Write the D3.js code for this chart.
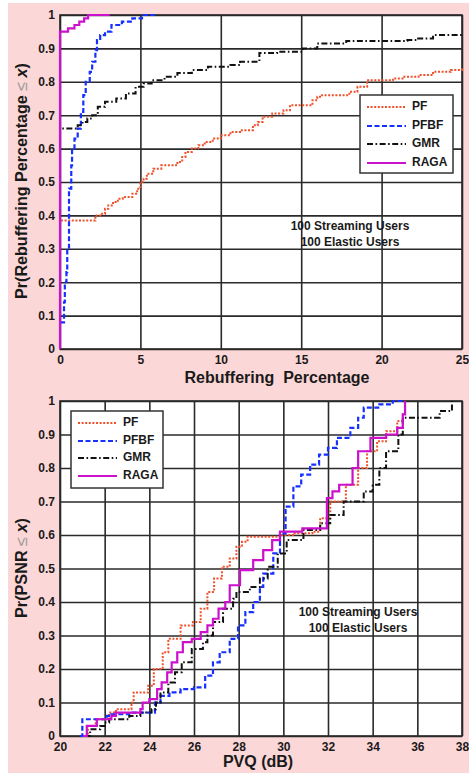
<!DOCTYPE html>
<html><head><meta charset="utf-8">
<script src="https://cdn.jsdelivr.net/npm/d3@7"></script>
<style>
html,body{margin:0;padding:0;background:#fff;}
svg{display:block;}
text{font-family:"Liberation Sans",Arial,sans-serif;font-weight:bold;fill:#1a1a1a;}
</style></head>
<body>
<svg id="c" width="469" height="775"></svg>
<script>
// ---------- data: top chart (Rebuffering Percentage CDF) ----------
const seriesNames = ["PF", "PFBF", "GMR", "RAGA"];
const rebufTicksX = [0, 5, 10, 15, 20, 25];
const probTicks = [0, 0.1, 0.2, 0.3, 0.4, 0.5, 0.6, 0.7, 0.8, 0.9, 1];
const probTickLabels = ["0", "0.1", "0.2", "0.3", "0.4", "0.5", "0.6", "0.7", "0.8", "0.9", "1"];

const rebufPF_x = [0, 0, 2.2, 2.5, 2.8, 3.0, 3.3, 3.6, 3.9, 4.5, 4.8, 5.0, 5.2, 5.4, 5.8, 6.3, 7.3, 7.6, 7.8, 8.2, 8.6, 9.0, 9.5, 10.0, 10.6, 11.2, 12.0, 12.3, 12.6, 13.2, 13.9, 14.3, 15.7, 16.0, 16.3, 18.0, 18.5, 19.1, 20.7, 21.3, 22.3, 23.2, 24.3, 25];
const rebufPF_y = [0, 0.385, 0.40, 0.405, 0.42, 0.43, 0.44, 0.45, 0.455, 0.465, 0.48, 0.50, 0.51, 0.525, 0.54, 0.55, 0.56, 0.575, 0.59, 0.60, 0.61, 0.62, 0.63, 0.64, 0.65, 0.655, 0.67, 0.68, 0.695, 0.705, 0.715, 0.73, 0.745, 0.755, 0.76, 0.77, 0.785, 0.805, 0.81, 0.815, 0.82, 0.83, 0.835, 0.84];

const rebufPFBF_x = [0, 0.25, 0.3, 0.4, 0.45, 0.56, 0.7, 0.75, 0.9, 1.1, 1.3, 1.45, 1.6, 1.85, 2.0, 2.2, 2.3, 2.5, 2.8, 3.2, 3.85, 4.5, 5.1, 5.9];
const rebufPFBF_y = [0.08, 0.14, 0.2, 0.23, 0.3, 0.48, 0.55, 0.6, 0.63, 0.66, 0.71, 0.76, 0.80, 0.83, 0.86, 0.895, 0.925, 0.94, 0.95, 0.97, 0.98, 0.99, 1.0, 1.0];

const rebufGMR_x = [0, 0, 1.1, 1.4, 1.7, 2.0, 2.35, 2.8, 3.5, 4.1, 4.7, 5.2, 5.7, 6.5, 7.3, 8.2, 9.2, 10.6, 11.2, 12.4, 13.5, 15.1, 16.0, 17.8, 21.6, 22.2, 23.2, 25];
const rebufGMR_y = [0, 0.66, 0.67, 0.68, 0.69, 0.70, 0.725, 0.74, 0.75, 0.765, 0.785, 0.795, 0.805, 0.815, 0.826, 0.835, 0.845, 0.85, 0.86, 0.886, 0.89, 0.90, 0.915, 0.922, 0.925, 0.93, 0.94, 0.94];

const rebufRAGA_x = [0, 0, 0.5, 0.9, 1.2, 1.5, 1.75, 3.1];
const rebufRAGA_y = [0, 0.95, 0.96, 0.97, 0.98, 0.99, 1.0, 1.0];

// ---------- data: bottom chart (PVQ CDF) ----------
const pvqTicksX = [20, 22, 24, 26, 28, 30, 32, 34, 36, 38];

const pvqPF_x = [21.0, 21.25, 21.6, 22.2, 22.5, 23.2, 23.3, 23.95, 24.2, 24.6, 24.85, 25.4, 25.95, 26.3, 26.6, 26.9, 27.25, 27.6, 27.9, 28.15, 28.4, 29.85, 30.5, 31.3, 31.65, 32.1, 32.8, 33.35, 33.75, 34.2, 34.6, 35.1, 35.35, 35.45];
const pvqPF_y = [0, 0.03, 0.05, 0.07, 0.08, 0.10, 0.13, 0.15, 0.20, 0.25, 0.29, 0.33, 0.34, 0.38, 0.43, 0.47, 0.505, 0.53, 0.565, 0.58, 0.595, 0.60, 0.605, 0.61, 0.65, 0.70, 0.75, 0.80, 0.85, 0.88, 0.91, 0.94, 0.96, 1.0];

const pvqPFBF_x = [20.9, 21.0, 22.1, 22.3, 23.1, 24.25, 24.5, 24.9, 25.4, 26.0, 26.5, 26.85, 27.15, 27.6, 27.97, 28.3, 28.65, 28.95, 29.1, 29.55, 29.85, 30.1, 30.45, 30.8, 31.2, 31.6, 32.0, 32.4, 33.0, 33.35, 33.6, 34.3, 34.9, 35.35];
const pvqPFBF_y = [0, 0.05, 0.06, 0.065, 0.07, 0.10, 0.12, 0.13, 0.14, 0.145, 0.18, 0.22, 0.25, 0.29, 0.33, 0.37, 0.40, 0.445, 0.485, 0.545, 0.605, 0.685, 0.745, 0.78, 0.81, 0.84, 0.86, 0.89, 0.92, 0.95, 0.98, 0.99, 1.0, 1.0];

const pvqGMR_x = [21.1, 21.35, 21.8, 22.0, 22.2, 23.1, 23.6, 24.1, 24.3, 24.5, 24.85, 25.15, 25.45, 25.9, 26.4, 26.6, 26.85, 27.3, 27.75, 27.9, 28.5, 28.95, 29.3, 29.75, 30.15, 30.9, 31.65, 32.1, 32.7, 33.6, 34.0, 34.3, 34.6, 35.15, 35.35, 37.0, 37.55];
const pvqGMR_y = [0, 0.02, 0.03, 0.04, 0.05, 0.06, 0.07, 0.08, 0.10, 0.13, 0.16, 0.19, 0.22, 0.26, 0.28, 0.30, 0.34, 0.38, 0.41, 0.43, 0.445, 0.47, 0.505, 0.545, 0.585, 0.615, 0.635, 0.66, 0.70, 0.73, 0.75, 0.80, 0.85, 0.90, 0.95, 0.97, 1.0];

const pvqRAGA_x = [21.03, 21.2, 21.65, 22.3, 22.5, 23.6, 23.7, 24.0, 24.35, 24.55, 24.8, 25.0, 25.25, 25.5, 25.9, 26.3, 26.6, 26.85, 27.1, 27.4, 27.6, 28.06, 28.65, 29.1, 29.5, 29.85, 30.85, 31.95, 32.2, 32.5, 33.1, 33.35, 33.9, 34.6, 35.1, 35.35, 35.45];
const pvqRAGA_y = [0, 0.03, 0.05, 0.06, 0.07, 0.08, 0.10, 0.11, 0.14, 0.16, 0.19, 0.22, 0.25, 0.28, 0.29, 0.31, 0.33, 0.35, 0.38, 0.40, 0.45, 0.495, 0.525, 0.555, 0.585, 0.61, 0.62, 0.71, 0.73, 0.75, 0.80, 0.85, 0.89, 0.90, 0.92, 0.96, 1.0];

const annotationLines = ["100 Streaming Users", "100 Elastic Users"];

// ---------- styles ----------
const styles = {
  PF:   {color: "#f0502a", dash: "2,1.6", width: 2},
  PFBF: {color: "#1530ff", dash: "5,2.5", width: 2.2},
  GMR:  {color: "#111111", dash: "6,2.5,1.6,2.5", width: 2},
  RAGA: {color: "#cc11cc", dash: null, width: 2.2}
};

const zip = (xs, ys) => xs.map((v, i) => [v, ys[i]]);

const svg = d3.select("#c");
svg.append("rect").attr("x", 8).attr("y", 3).attr("width", 461).attr("height", 770).attr("fill", "#fcd7d7");

function drawChart(cfg) {
  const {left, right, top, bottom} = cfg;
  const x = d3.scaleLinear().domain(cfg.xDomain).range([left, right]);
  const y = d3.scaleLinear().domain([0, 1]).range([bottom, top]);
  const g = svg.append("g");
  g.append("rect").attr("x", left).attr("y", top).attr("width", right - left).attr("height", bottom - top).attr("fill", "#fff");

  const xa = g.append("g").attr("transform", `translate(0,${bottom})`)
    .call(d3.axisBottom(x).tickValues(cfg.xTicks).tickSize(-(bottom - top)).tickPadding(6).tickFormat(d3.format("d")));
  xa.select(".domain").remove();
  xa.selectAll(".tick line").attr("stroke", "#2a2a2a").attr("stroke-width", 1.6);
  xa.selectAll(".tick text").attr("font-size", 12).attr("fill", "#1a1a1a").attr("font-family", "Liberation Sans, Arial, sans-serif");

  const ya = g.append("g").attr("transform", `translate(${left},0)`)
    .call(d3.axisLeft(y).tickValues(probTicks).tickSize(-(right - left)).tickPadding(5).tickFormat((d, i) => probTickLabels[i]));
  ya.select(".domain").remove();
  ya.selectAll(".tick line").attr("stroke", "#2a2a2a").attr("stroke-width", 1.6);
  ya.selectAll(".tick text").attr("font-size", 12).attr("fill", "#1a1a1a").attr("font-family", "Liberation Sans, Arial, sans-serif");

  g.append("rect").attr("x", left).attr("y", top).attr("width", right - left).attr("height", bottom - top)
    .attr("fill", "none").attr("stroke", "#2a2a2a").attr("stroke-width", 1.6);

  const line = d3.line().x(d => x(d[0])).y(d => y(d[1])).curve(d3.curveStepAfter);
  cfg.series.forEach(s => {
    const st = styles[s.name];
    g.append("path").datum(s.data).attr("d", line).attr("fill", "none")
      .attr("stroke", st.color).attr("stroke-width", st.width)
      .attr("stroke-dasharray", st.dash).attr("stroke-linejoin", "miter");
  });

  annotationLines.forEach((t, i) => {
    g.append("text").attr("x", cfg.annX).attr("y", cfg.annY + i * 16).attr("text-anchor", "middle")
      .attr("dominant-baseline", "middle").attr("font-size", 12).text(t);
  });

  const L = cfg.legend;
  g.append("rect").attr("x", L.x).attr("y", L.y).attr("width", L.w).attr("height", L.h)
    .attr("fill", "#fff").attr("stroke", "#333").attr("stroke-width", 1.5);
  seriesNames.forEach((n, i) => {
    const st = styles[n];
    const yy = L.rowY[i];
    g.append("line").attr("x1", L.x + 7).attr("x2", L.x + 46).attr("y1", yy).attr("y2", yy)
      .attr("stroke", st.color).attr("stroke-width", st.width).attr("stroke-dasharray", st.dash);
    g.append("text").attr("x", L.x + 52).attr("y", yy).attr("dominant-baseline", "middle")
      .attr("font-size", 12).text(n);
  });

  g.append("text").attr("x", cfg.xlabX).attr("y", cfg.xlabY).attr("text-anchor", "middle")
    .attr("dominant-baseline", "middle").attr("font-size", 16).attr("xml:space", "preserve").text(cfg.xlabel);

  // y title: rotated, compressed along its length to the reference's extent
  const yg = g.append("g").attr("transform", `translate(${cfg.ylabX},${cfg.ylabY}) rotate(-90)`);
  const inner = yg.append("g");
  const yl = inner.append("text")
    .attr("text-anchor", "middle").attr("dominant-baseline", "middle").attr("font-size", 16);
  yl.append("tspan").text(cfg.ylabelPre + " ");
  yl.append("tspan").attr("font-weight", "normal").style("fill", "#9a9a9a").text("\u2264");
  yl.append("tspan").text(" ");
  yl.append("tspan").attr("font-style", "italic").text("x");
  yl.append("tspan").text(")");
  let len = 0;
  try { len = yl.node().getBBox().width; } catch (e) { len = 0; }
  const sc = (len > 1) ? cfg.ylabLen / len : 0.83;
  inner.attr("transform", `scale(${sc},1)`);
}

drawChart({
  left: 60, right: 462, top: 15, bottom: 349,
  xDomain: [0, 25], xTicks: rebufTicksX,
  series: [
    {name: "PF", data: zip(rebufPF_x, rebufPF_y)},
    {name: "PFBF", data: zip(rebufPFBF_x, rebufPFBF_y)},
    {name: "GMR", data: zip(rebufGMR_x, rebufGMR_y)},
    {name: "RAGA", data: zip(rebufRAGA_x, rebufRAGA_y)}
  ],
  annX: 350, annY: 227,
  legend: {x: 360, y: 95, w: 93, h: 78, rowY: [107, 126, 144, 163]},
  xlabel: "Rebuffering  Percentage", xlabX: 277, xlabY: 379,
  ylabelPre: "Pr(Rebuffering Percentage", ylabX: 23, ylabY: 181, ylabLen: 236
});

drawChart({
  left: 60, right: 462, top: 401, bottom: 736,
  xDomain: [20, 38], xTicks: pvqTicksX,
  series: [
    {name: "PF", data: zip(pvqPF_x, pvqPF_y)},
    {name: "PFBF", data: zip(pvqPFBF_x, pvqPFBF_y)},
    {name: "GMR", data: zip(pvqGMR_x, pvqGMR_y)},
    {name: "RAGA", data: zip(pvqRAGA_x, pvqRAGA_y)}
  ],
  annX: 358, annY: 613,
  legend: {x: 71, y: 411, w: 92, h: 77, rowY: [423, 441, 458, 476]},
  xlabel: "PVQ (dB)", xlabX: 258, xlabY: 763,
  ylabelPre: "Pr(PSNR", ylabX: 23, ylabY: 568, ylabLen: 100
});
</script>
</body></html>
